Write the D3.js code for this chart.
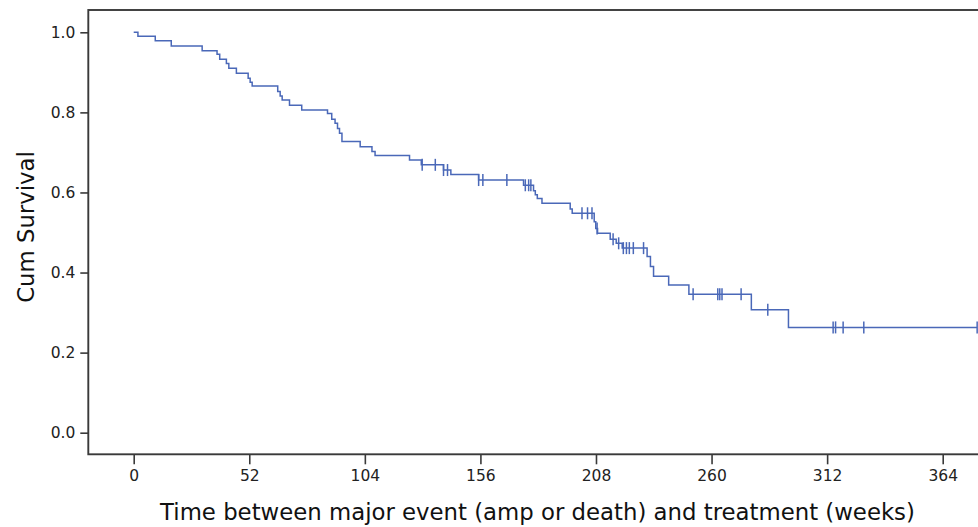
<!DOCTYPE html>
<html>
<head>
<meta charset="utf-8">
<script src="https://cdn.jsdelivr.net/npm/d3@7"></script>
<style>
  html, body { margin: 0; padding: 0; background: #ffffff; }
  svg { display: block; }
</style>
</head>
<body>
<svg id="chart" width="978" height="527"></svg>
<script>
// ---- data ----
const eventTimes = [0, 1.9, 9.7, 16.9, 30.8, 37.5, 38.7, 41.7, 42.8, 46.2, 51.5, 52.4, 53.3,
  64.8, 65.9, 66.8, 70.1, 75.6, 87.2, 89.1, 90.6, 91.7, 92.6, 93.7, 101.9, 107.2, 108.6,
  124.1, 129.4, 139.4, 142.7, 155.2, 175.4, 179.9, 180.7, 181.6, 183.7, 196.4, 197.3,
  207.2, 207.9, 208.7, 214.4, 217.1, 219.8, 231.0, 232.5, 233.9, 240.7, 249.8, 277.9, 294.6];
const survival = [1.0, 0.990, 0.979, 0.966, 0.954, 0.945, 0.933, 0.922, 0.910, 0.898, 0.885, 0.875, 0.866,
  0.852, 0.841, 0.831, 0.818, 0.806, 0.797, 0.783, 0.773, 0.760, 0.748, 0.727, 0.714, 0.702, 0.692,
  0.681, 0.669, 0.656, 0.645, 0.631, 0.618, 0.604, 0.594, 0.585, 0.573, 0.559, 0.548,
  0.527, 0.510, 0.498, 0.483, 0.473, 0.461, 0.440, 0.415, 0.391, 0.369, 0.346, 0.307, 0.263];
const lastTime = 379.5;

const censorTimes = [129.8, 135.7, 139.4, 141.2, 155.2, 157.1, 167.9, 176.2, 177.7, 178.7,
  201.7, 204.2, 206.2, 208.5, 215.7, 218.2, 220.3, 221.7, 223.0, 224.8, 229.4,
  251.7, 262.8, 263.7, 264.7, 273.3, 285.3, 314.7, 315.8, 319.2, 328.5, 379.5];
const censorSurv = [0.669, 0.669, 0.656, 0.656, 0.631, 0.631, 0.631, 0.618, 0.618, 0.618,
  0.548, 0.548, 0.548, 0.510, 0.483, 0.473, 0.461, 0.461, 0.461, 0.461, 0.461,
  0.346, 0.346, 0.346, 0.346, 0.346, 0.307, 0.263, 0.263, 0.263, 0.263, 0.263];

const xTicks = [0, 52, 104, 156, 208, 260, 312, 364];
const yTicks = [0.0, 0.2, 0.4, 0.6, 0.8, 1.0];
const xTitle = "Time between major event (amp or death) and treatment (weeks)";
const yTitle = "Cum Survival";

// ---- layout ----
const svg = d3.select("#chart");
const frame = { left: 88.3, top: 10, right: 1000, bottom: 454.3 };
const x = d3.scaleLinear().domain([0, 364]).range([133.7, 942.7]);
const y = d3.scaleLinear().domain([0, 1]).range([432.7, 32.3]);
const axisColor = "#3a3a3a";
const lineColor = "#4a68b8";
const font = "DejaVu Sans, sans-serif";

// frame
svg.append("rect")
  .attr("x", frame.left).attr("y", frame.top)
  .attr("width", frame.right - frame.left).attr("height", frame.bottom - frame.top)
  .attr("fill", "none").attr("stroke", axisColor).attr("stroke-width", 1.9);

// x axis
const gx = svg.append("g").attr("transform", `translate(0,${frame.bottom})`)
  .call(d3.axisBottom(x).tickValues(xTicks).tickSize(10).tickPadding(6).tickFormat(d3.format("d")));
gx.select(".domain").remove();
gx.selectAll("line").attr("stroke", axisColor).attr("stroke-width", 1.6);
gx.selectAll("text").attr("fill", "#222").style("font-family", font).style("font-size", "15.5px");

// y axis
const gy = svg.append("g").attr("transform", `translate(${frame.left},0)`)
  .call(d3.axisLeft(y).tickValues(yTicks).tickSize(8).tickPadding(5).tickFormat(d3.format(".1f")));
gy.select(".domain").remove();
gy.selectAll("line").attr("stroke", axisColor).attr("stroke-width", 1.6);
gy.selectAll("text").attr("fill", "#222").style("font-family", font).style("font-size", "15.5px");

// titles
svg.append("text").attr("x", 537.5).attr("y", 520)
  .attr("text-anchor", "middle").attr("fill", "#111")
  .style("font-family", font).style("font-size", "22.8px").text(xTitle);
svg.append("text").attr("transform", "translate(34,227) rotate(-90)")
  .attr("text-anchor", "middle").attr("fill", "#111")
  .style("font-family", font).style("font-size", "22.8px").text(yTitle);

// survival step curve
const pts = eventTimes.map((t, i) => [t, survival[i]]);
pts.push([lastTime, survival[survival.length - 1]]);
svg.append("path")
  .datum(pts)
  .attr("fill", "none").attr("stroke", lineColor).attr("stroke-width", 1.5)
  .attr("d", d3.line().x(d => x(d[0])).y(d => y(d[1])).curve(d3.curveStepAfter));

// censor marks
svg.append("g").selectAll("line")
  .data(censorTimes.map((t, i) => [t, censorSurv[i]]))
  .join("line")
  .attr("x1", d => x(d[0])).attr("x2", d => x(d[0]))
  .attr("y1", d => y(d[1]) - 6).attr("y2", d => y(d[1]) + 6)
  .attr("stroke", lineColor).attr("stroke-width", 1.5);
</script>
</body>
</html>
